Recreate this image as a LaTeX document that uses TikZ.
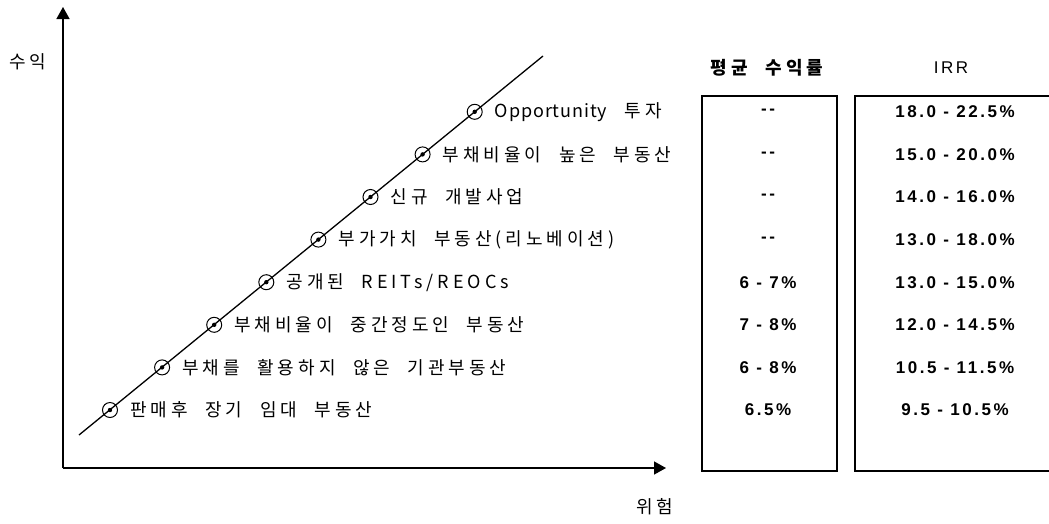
\documentclass[tikz,border=0pt]{standalone}
\usepackage{fontspec}
\usetikzlibrary{arrows.meta}
\newfontfamily\kr[LetterSpace=22,WordSpace=2.2]{Noto Sans CJK KR}
\newfontfamily\krl[LetterSpace=5,WordSpace=2.2]{Noto Sans CJK KR}
\newfontfamily\num[LetterSpace=15]{Liberation Sans}
\begin{document}
\begin{tikzpicture}[x=1pt,y=-1pt,
  lbl/.style={anchor=west, inner sep=0pt, font=\kr\fontsize{18}{18}\selectfont},
  mk/.style={circle, draw, line width=1pt, minimum size=15pt, inner sep=0pt},
  val/.style={inner sep=0pt, font=\num\bfseries\fontsize{17}{17}\selectfont},
  hdr/.style={inner sep=0pt},
  boxline/.style={line width=1.2pt},
  axisline/.style={line width=1.5pt, -{Triangle[length=12pt,width=13pt]}}]
\useasboundingbox (0,0) rectangle (1049,523);
\fill[white] (0,0) rectangle (1049,523);
% axes
\coordinate (o) at (63,468);
\coordinate (ytip) at (63,7);
\coordinate (xtip) at (666,468);
\draw[axisline] (o) -- (ytip);
\draw[axisline] (o) -- (xtip);
\node[hdr, font=\kr\fontsize{18}{18}\selectfont] (ylab) at (28,62) {수익};
\node[hdr, font=\kr\fontsize{18}{18}\selectfont] (xlab) at (655,507) {위험};
% diagonal
\coordinate (dlo) at (79,435);
\coordinate (dhi) at (543,56);
\draw[line width=1.3pt] (dlo) -- (dhi);
% markers and labels
\foreach \k/\t in {0/{판매후 장기 임대 부동산},1/{부채를 활용하지 않은 기관부동산},2/{부채비율이 중간정도인 부동산},3/{공개된 REITs/REOCs},4/{부가가치 부동산(리노베이션)},5/{신규 개발사업},6/{부채비율이 높은 부동산},7/{{\krl Opportunity} 투자}}{
  \node[mk] (m\k) at ({110+52.1*\k},{410-42.6*\k}) {};
  \fill (m\k.center) circle (2.2pt);
  \node[lbl] (l\k) at ([xshift=12pt]m\k.east) {\t};
}
% table headers
\node[hdr, font=\kr\bfseries\fontsize{18}{18}\selectfont] (h1) at (767,68) {평균 수익률};
\node[hdr, font=\num\fontsize{17}{17}\selectfont] (h2) at (951,68) {IRR};
% boxes
\draw[boxline] (702,96) rectangle (837,471);
\draw[boxline] (1055,96) -- (855,96) -- (855,471) -- (1055,471);
% values
\foreach \k/\a/\b in {0/6.5\%/9.5 - 10.5\%,1/6 - 8\%/10.5 - 11.5\%,2/7 - 8\%/12.0 - 14.5\%,3/6 - 7\%/13.0 - 15.0\%,4/--/13.0 - 18.0\%,5/--/14.0 - 16.0\%,6/--/15.0 - 20.0\%,7/--/18.0 - 22.5\%}{
  \node[val] (a\k) at (768,{410-42.6*\k}) {\a};
  \node[val] (b\k) at (955,{410-42.6*\k}) {\b};
}
\end{tikzpicture}
\end{document}
